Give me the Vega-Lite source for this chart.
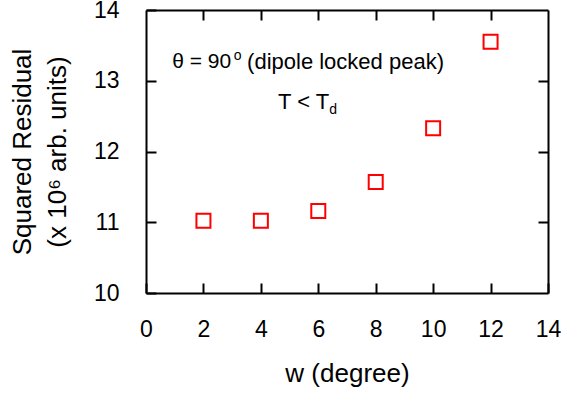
{
  "$schema": "https://vega.github.io/schema/vega-lite/v6.json",
  "autosize": "none",
  "width": 402,
  "height": 283,
  "padding": {"left": 146, "top": 10, "right": 13, "bottom": 101},
  "config": {
    "view": {"stroke": null},
    "font": "Liberation Sans",
    "axis": {"grid": false, "domainColor": "black", "domainWidth": 2, "tickColor": "black", "tickWidth": 2, "labelColor": "black", "titleColor": "black", "labelFont": "Liberation Sans", "titleFont": "Liberation Sans", "titleFontWeight": "normal"}
  },
  "datasets": {
    "pts": [
      {"w": 2, "r": 11.02},
      {"w": 4, "r": 11.02},
      {"w": 6, "r": 11.16},
      {"w": 8, "r": 11.57},
      {"w": 10, "r": 12.33},
      {"w": 12, "r": 13.55}
    ],
    "notes": [
      {"x": 0.91, "y": 13.27, "t": "θ = 90", "s": 21},
      {"x": 3.06, "y": 13.35, "t": "o", "s": 14},
      {"x": 3.52, "y": 13.27, "t": "(dipole locked peak)", "s": 22},
      {"x": 4.6, "y": 12.7, "t": "T < T", "s": 22},
      {"x": 6.38, "y": 12.59, "t": "d", "s": 14}
    ]
  },
  "layer": [
    {
      "data": {"name": "pts"},
      "mark": {"type": "point", "shape": "square", "filled": false, "color": "#ff0000", "strokeWidth": 2, "size": 196, "opacity": 1},
      "encoding": {
        "x": {"field": "w", "type": "quantitative", "scale": {"domain": [0, 14], "nice": false},
          "axis": {"values": [0, 2, 4, 6, 8, 10, 12, 14], "tickSize": -10, "labelPadding": 35, "labelFontSize": 23, "title": "w (degree)", "titleFontSize": 26, "titlePadding": 19, "labelFlush": false}},
        "y": {"field": "r", "type": "quantitative", "scale": {"domain": [10, 14], "nice": false},
          "axis": {"values": [10, 11, 12, 13, 14], "tickSize": -10, "labelPadding": 37, "labelFontSize": 23, "title": ["Squared Residual", "(x 10⁶ arb. units)"], "titleFontSize": 26, "titlePadding": 23, "titleLineHeight": 35, "labelFlush": false}}
      }
    },
    {
      "data": {"name": "pts"},
      "mark": {"type": "point", "opacity": 0},
      "encoding": {
        "x": {"field": "w", "type": "quantitative", "axis": {"orient": "top", "values": [2, 4, 6, 8, 10, 12], "tickSize": -10, "labels": false, "title": null}},
        "y": {"field": "r", "type": "quantitative", "axis": {"orient": "right", "values": [11, 12, 13], "tickSize": -10, "labels": false, "title": null}}
      }
    },
    {
      "data": {"name": "notes"},
      "mark": {"type": "text", "align": "left", "baseline": "middle", "color": "black", "font": "Liberation Sans"},
      "encoding": {
        "x": {"field": "x", "type": "quantitative", "axis": null},
        "y": {"field": "y", "type": "quantitative", "axis": null},
        "text": {"field": "t"},
        "size": {"field": "s", "type": "quantitative", "scale": null}
      }
    }
  ],
  "resolve": {"axis": {"x": "independent", "y": "independent"}}
}
